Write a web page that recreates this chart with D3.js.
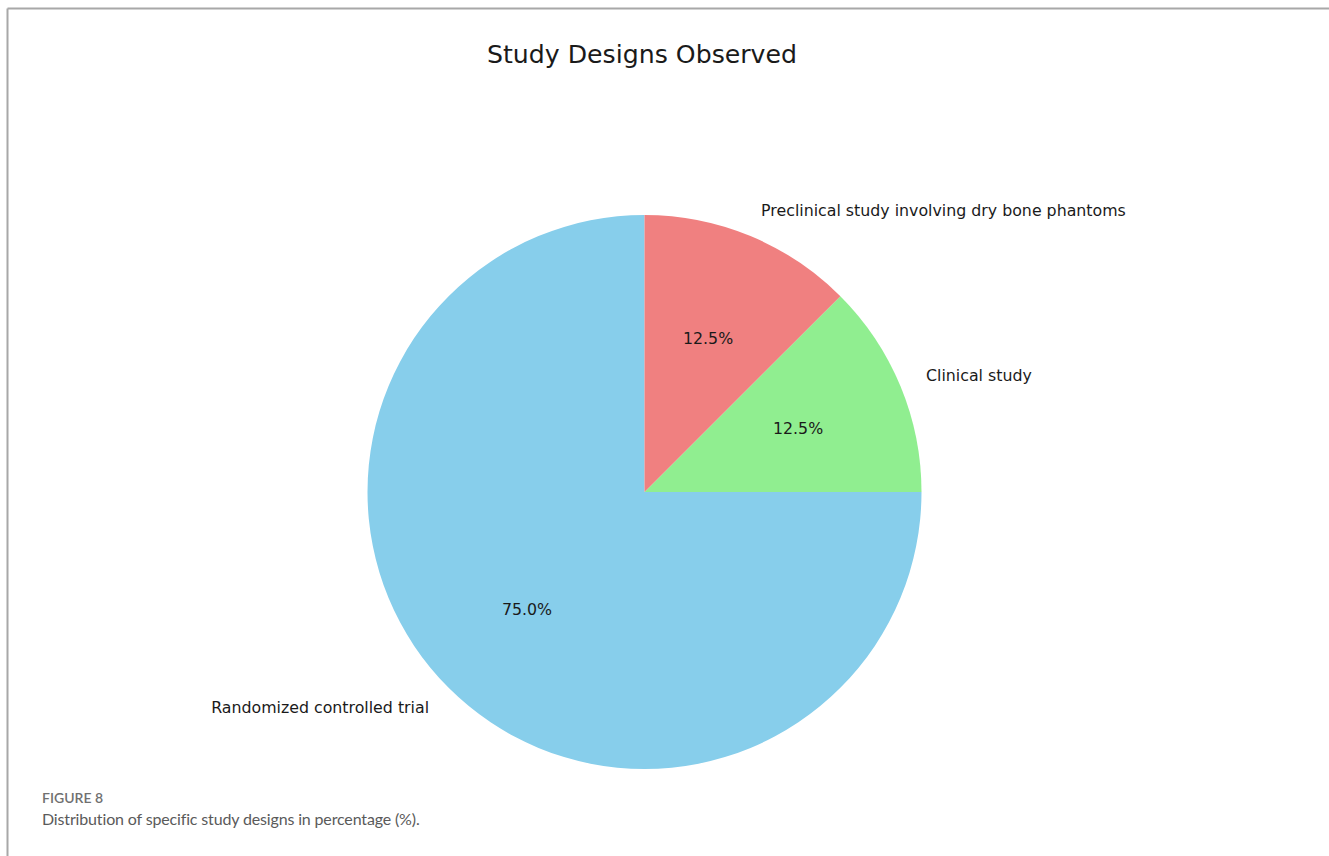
<!DOCTYPE html>
<html>
<head>
<meta charset="utf-8">
<script src="https://cdn.jsdelivr.net/npm/d3@7"></script>
<style>
  body { margin: 0; background: #fff; }
  svg { display: block; }
</style>
</head>
<body>
<svg id="chart"></svg>
<script>
// chart data
let categories = ['Randomized controlled trial', 'Clinical study', 'Preclinical study involving dry bone phantoms']
let percents = [75.0, 12.5, 12.5]
let colors = ['#87CEEB', '#90EE90', '#F08080']

let width = 1329
let height = 856
let cx = 644.5
let cy = 492
let radius = 277

let svg = d3.select('svg#chart')
  .attr('width', width)
  .attr('height', height)

// frame lines (top and left only)
svg.append('line')
  .attr('x1', 7.5).attr('y1', 8.5).attr('x2', width).attr('y2', 8.5)
  .attr('stroke', '#a8a8a8').attr('stroke-width', 2)
svg.append('line')
  .attr('x1', 7.5).attr('y1', 8.5).attr('x2', 7.5).attr('y2', height)
  .attr('stroke', '#a8a8a8').attr('stroke-width', 2)

svg.append('text')
  .attr('x', 642)
  .attr('y', 63)
  .attr('text-anchor', 'middle')
  .style('font-family', 'DejaVu Sans')
  .style('font-size', '25.2px')
  .style('fill', '#1a1a1a')
  .text('Study Designs Observed')

let data = categories.map((c, i) => ({ name: c, value: percents[i], color: colors[i] }))

// matplotlib style: start at top, go counter-clockwise
let pie = d3.pie()
  .sort(null)
  .value(d => d.value)
  .startAngle(0)
  .endAngle(-2 * Math.PI)

let arc = d3.arc().innerRadius(0).outerRadius(radius)

let g = svg.append('g').attr('transform', `translate(${cx},${cy})`)
let arcs = pie(data)

g.selectAll('path')
  .data(arcs)
  .join('path')
  .attr('d', arc)
  .attr('fill', d => d.data.color)

let pos = (d, k) => {
  let a = (d.startAngle + d.endAngle) / 2
  return [Math.sin(a) * radius * k, -Math.cos(a) * radius * k]
}

g.selectAll('text.label')
  .data(arcs)
  .join('text')
  .attr('class', 'label')
  .attr('x', d => pos(d, 1.1)[0])
  .attr('y', d => pos(d, 1.1)[1])
  .attr('dy', '0.35em')
  .attr('text-anchor', d => pos(d, 1.1)[0] < 0 ? 'end' : 'start')
  .style('font-family', 'DejaVu Sans')
  .style('font-size', '15.8px')
  .style('fill', '#1a1a1a')
  .text(d => d.data.name)

g.selectAll('text.pct')
  .data(arcs)
  .join('text')
  .attr('class', 'pct')
  .attr('x', d => pos(d, 0.6)[0])
  .attr('y', d => pos(d, 0.6)[1])
  .attr('dy', '0.35em')
  .attr('text-anchor', 'middle')
  .style('font-family', 'DejaVu Sans')
  .style('font-size', '15.8px')
  .style('fill', '#1a1a1a')
  .text(d => d.data.value.toFixed(1) + '%')

// caption
svg.append('text')
  .attr('x', 42)
  .attr('y', 803)
  .style('font-family', 'Lato')
  .style('font-size', '14px')
  .style('font-weight', 600)
  .style('fill', '#707070')
  .text('FIGURE 8')

svg.append('text')
  .attr('x', 42)
  .attr('y', 825)
  .style('font-family', 'Lato')
  .style('font-size', '16px')
  .style('letter-spacing', '-0.15px')
  .style('fill', '#5a5a5a')
  .text('Distribution of specific study designs in percentage (%).')
</script>
</body>
</html>
